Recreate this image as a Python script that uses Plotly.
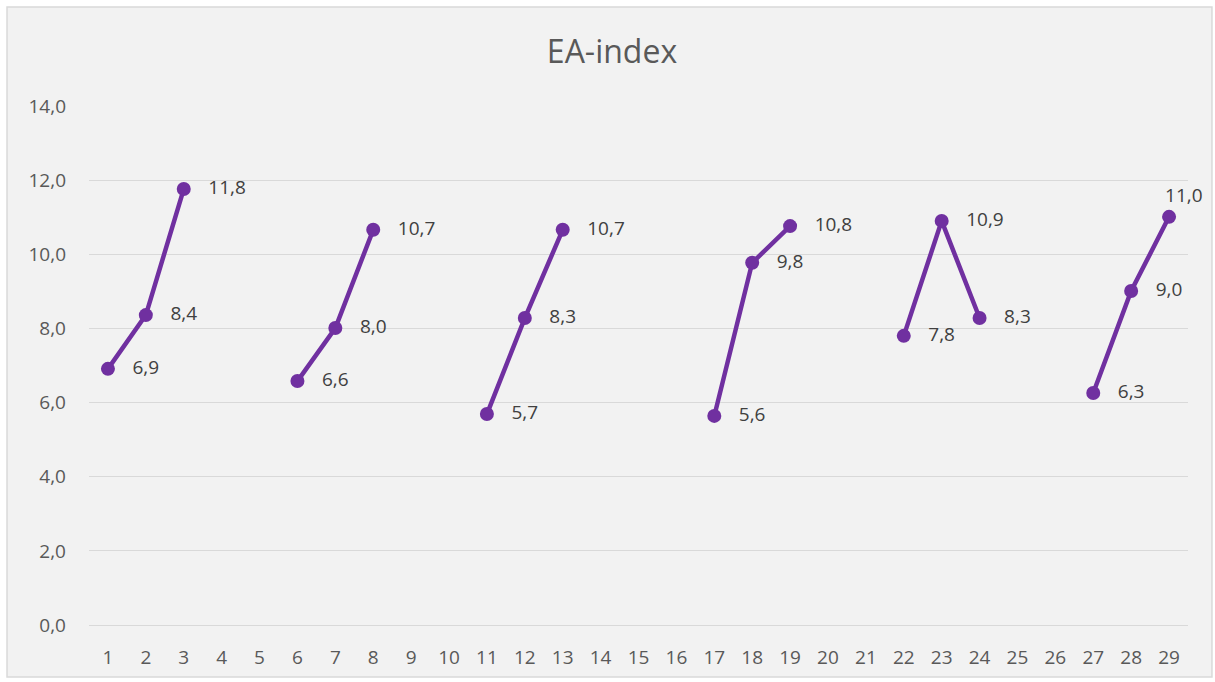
import plotly.graph_objects as go

categories = [str(i) for i in range(1, 30)]
values = [6.91, 8.36, 11.76, None, None, 6.58, 8.01, 10.66, None, None,
          5.69, 8.28, 10.66, None, None, None, 5.64, 9.77, 10.76, None,
          None, 7.80, 10.90, 8.28, None, None, 6.26, 9.01, 11.01]
labels = [("%.1f" % v).replace(".", ",") if v is not None else "" for v in values]
positions = ["middle right"] * len(values)
positions[-1] = "top center"

purple = "#7030a0"
grey_text = "#595959"

fig = go.Figure()
fig.add_trace(go.Scatter(
    x=categories, y=values, mode="lines+markers+text",
    text=[("   " + t) if p == "middle right" else ("      " + t) for t, p in zip(labels, positions)],
    textposition=positions,
    textfont=dict(family="Open Sans, sans-serif", size=19, color="#404040"),
    line=dict(color=purple, width=4.5),
    marker=dict(color=purple, size=14),
    connectgaps=False,
    cliponaxis=False,
    showlegend=False,
    hoverinfo="x+y",
))

fig.add_shape(type="rect", xref="paper", yref="paper",
              x0=-0.0746, x1=1.0218, y0=-0.1002, y1=1.1908,
              line=dict(color="#d9d9d9", width=1.5), fillcolor="#f2f2f2",
              layer="below")

fig.update_layout(
    width=1215, height=682,
    margin=dict(l=89, r=27, t=106, b=57),
    paper_bgcolor="white",
    plot_bgcolor="rgba(0,0,0,0)",
    title=dict(text="EA-index", x=612 / 1215, xref="container", xanchor="center",
               y=1 - 52 / 682, yref="container", yanchor="middle",
               font=dict(family="Open Sans, sans-serif", size=32, color=grey_text)),
    font=dict(family="Open Sans, sans-serif", color=grey_text),
    separators=", ",
)

fig.update_xaxes(type="category", range=[-0.5, 28.5], showgrid=False,
                 showline=True, linecolor="#d9d9d9", linewidth=1,
                 ticks="", tickfont=dict(size=19, color=grey_text),
                 ticklabelstandoff=15, fixedrange=True)
fig.update_yaxes(range=[0, 14], dtick=2, tickformat=".1f",
                 showgrid=True, gridcolor="#d9d9d9", gridwidth=1,
                 zeroline=False, showline=False, ticks="",
                 tickfont=dict(size=19, color=grey_text), ticklabelstandoff=22,
                 fixedrange=True)

fig.write_html("out.html")
